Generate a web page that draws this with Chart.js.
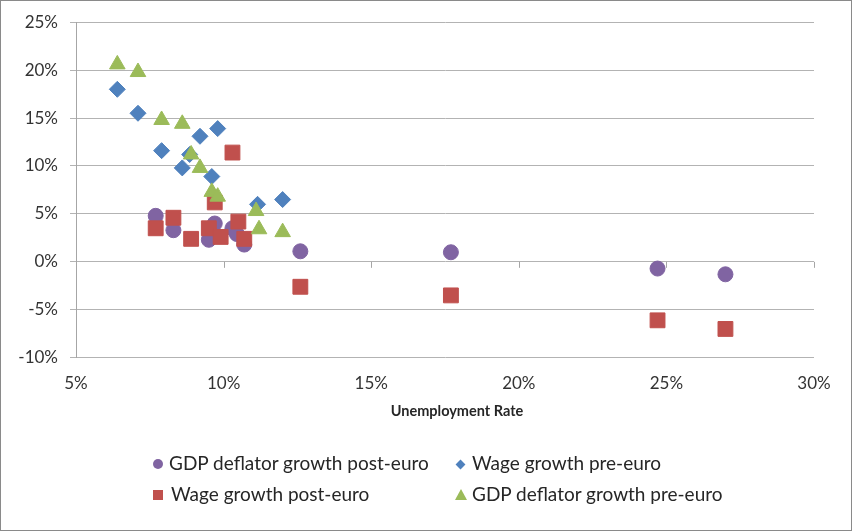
<!DOCTYPE html>
<html>
<head>
<meta charset="utf-8">
<script src="https://cdn.jsdelivr.net/npm/chart.js@4.4.1/dist/chart.umd.min.js"></script>
<style>
  body { margin: 0; background: #fff; }
  #wrap { position: relative; width: 852px; height: 531px; font-family: Lato, sans-serif; color: #262626; }
  #frame { position: absolute; left: 0; top: 0; width: 852px; height: 531px; box-sizing: border-box; border: 1px solid #8a8a8a; pointer-events: none; }
  .lg { position: absolute; font-size: 19px; line-height: 22px; white-space: nowrap; }
  .mk { position: absolute; }
  #xtitle { position: absolute; left: 357px; width: 200px; top: 402px; text-align: center; font-size: 14.5px; font-weight: bold; line-height: 18px; }
</style>
</head>
<body>
<div id="wrap">
  <canvas id="c" width="852" height="531"></canvas>
  <div id="xtitle">Unemployment Rate</div>
  <div id="legend"></div>
  <div id="frame"></div>
</div>
<script>
// Unemployment rate (x, %) vs growth (y, %)
const gdpPostX = [7.7, 8.3, 9.5, 9.7, 10.3, 10.45, 10.7, 12.6, 17.7, 24.7, 27.0];
const gdpPostY = [4.8, 3.3, 2.3, 4.0, 3.5, 2.9, 1.8, 1.1, 1.0, -0.7, -1.3];

const wagePreX = [6.4, 7.1, 7.9, 8.6, 8.85, 9.2, 9.6, 9.8, 11.15, 12.0];
const wagePreY = [18.0, 15.5, 11.6, 9.8, 11.2, 13.1, 8.9, 13.9, 6.0, 6.5];

const wagePostX = [7.7, 8.3, 8.9, 9.5, 9.7, 9.9, 10.3, 10.5, 10.7, 12.6, 17.7, 24.7, 27.0];
const wagePostY = [3.5, 4.6, 2.4, 3.5, 6.2, 2.6, 11.4, 4.2, 2.4, -2.6, -3.5, -6.1, -7.0];

const gdpPreX = [6.4, 7.1, 7.9, 8.6, 8.9, 9.2, 9.6, 9.8, 11.1, 11.2, 12.0];
const gdpPreY = [20.6, 19.8, 14.8, 14.4, 11.2, 9.8, 7.3, 6.8, 5.3, 3.4, 3.1];

const xTicks = [5, 10, 15, 20, 25, 30];
const yTicks = [-10, -5, 0, 5, 10, 15, 20, 25];

const seriesNames = ['GDP deflator growth post-euro', 'Wage growth pre-euro', 'Wage growth post-euro', 'GDP deflator growth pre-euro'];
const colors = ['#8064A2', '#4F81BD', '#C0504D', '#9BBB59'];

const pts = (xs, ys) => xs.map((x, i) => ({ x: x, y: ys[i] }));

// small tick marks on the horizontal axis, which crosses at 0%
const xAxisAtZero = {
  id: 'xAxisAtZero',
  afterDatasetsDraw(chart) {
    const { ctx, scales } = chart;
    const y0 = scales.y.getPixelForValue(0);
    ctx.save();
    ctx.strokeStyle = '#a6a6a6';
    ctx.lineWidth = 1;
    xTicks.forEach(t => {
      if (t === xTicks[0]) return;
      const px = Math.round(scales.x.getPixelForValue(t)) + 0.5;
      ctx.beginPath();
      ctx.moveTo(px, y0);
      ctx.lineTo(px, y0 + 6);
      ctx.stroke();
    });
    ctx.restore();
  }
};

const tickFont = { family: 'Lato', size: 17 };

new Chart(document.getElementById('c'), {
  type: 'scatter',
  data: {
    datasets: [
      { label: seriesNames[3], data: pts(gdpPreX, gdpPreY), pointStyle: 'triangle', pointRadius: 9, backgroundColor: colors[3], borderColor: colors[3] },
      { label: seriesNames[2], data: pts(wagePostX, wagePostY), pointStyle: 'rect', pointRadius: 10.5, backgroundColor: colors[2], borderColor: colors[2] },
      { label: seriesNames[1], data: pts(wagePreX, wagePreY), pointStyle: 'rectRot', pointRadius: 8, backgroundColor: colors[1], borderColor: colors[1] },
      { label: seriesNames[0], data: pts(gdpPostX, gdpPostY), pointStyle: 'circle', pointRadius: 7.5, backgroundColor: colors[0], borderColor: colors[0] }
    ]
  },
  options: {
    responsive: false,
    animation: false,
    events: [],
    layout: { padding: { left: 0, top: 22, right: 38, bottom: 111 } },
    plugins: { legend: { display: false }, tooltip: { enabled: false } },
    scales: {
      x: {
        type: 'linear', min: 5, max: 30,
        afterFit: s => { s.height = 62.3; },
        afterBuildTicks: s => { s.ticks = xTicks.map(v => ({ value: v })); },
        grid: { display: false, drawTicks: false },
        border: { display: false },
        ticks: { padding: 16, color: '#333', font: tickFont, callback: v => v + '%' }
      },
      y: {
        type: 'linear', min: -10, max: 25,
        afterFit: s => { s.width = 76; },
        afterBuildTicks: s => { s.ticks = yTicks.map(v => ({ value: v })); },
        grid: { color: '#b3b3b3', drawTicks: true, tickLength: 6 },
        border: { display: true, color: '#a6a6a6' },
        ticks: { padding: 12, color: '#333', font: tickFont, callback: v => v + '%' }
      }
    }
  },
  plugins: [xAxisAtZero]
});

// legend, laid out in two columns like the original
const legendItems = [
  { name: seriesNames[0], color: colors[0], shape: 'circle', mx: 158, tx: 169, y: 464 },
  { name: seriesNames[1], color: colors[1], shape: 'diamond', mx: 460, tx: 472, y: 464 },
  { name: seriesNames[2], color: colors[2], shape: 'square', mx: 158, tx: 171, y: 495 },
  { name: seriesNames[3], color: colors[3], shape: 'triangle', mx: 461, tx: 472, y: 495 }
];
const legend = document.getElementById('legend');
legendItems.forEach(it => {
  const m = document.createElement('div');
  m.className = 'mk';
  if (it.shape === 'circle') {
    Object.assign(m.style, { left: (it.mx - 5) + 'px', top: (it.y - 5) + 'px', width: '10px', height: '10px', borderRadius: '50%', background: it.color });
  } else if (it.shape === 'square') {
    Object.assign(m.style, { left: (it.mx - 5) + 'px', top: (it.y - 5) + 'px', width: '10px', height: '10px', background: it.color });
  } else if (it.shape === 'diamond') {
    Object.assign(m.style, { left: (it.mx - 3.5) + 'px', top: (it.y - 3.5) + 'px', width: '7px', height: '7px', background: it.color, transform: 'rotate(45deg)' });
  } else {
    Object.assign(m.style, { left: (it.mx - 6) + 'px', top: (it.y - 6) + 'px', width: 0, height: 0, borderLeft: '6px solid transparent', borderRight: '6px solid transparent', borderBottom: '11px solid ' + it.color });
  }
  legend.appendChild(m);
  const t = document.createElement('div');
  t.className = 'lg';
  t.textContent = it.name;
  t.style.left = it.tx + 'px';
  t.style.top = (it.y - 12) + 'px';
  legend.appendChild(t);
});
</script>
</body>
</html>
